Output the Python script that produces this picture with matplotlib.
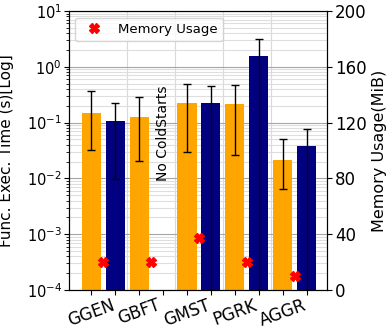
import numpy as np
import matplotlib
matplotlib.use('Agg')
import matplotlib.pyplot as plt

funcs = ['GGEN', 'GBFT', 'GMST', 'PGRK', 'AGGR']

# execution time (s): orange / navy bars, with lower and upper error ends
time_a = [0.147, 0.124, 0.221, 0.212, 0.0211]
low_a = [0.0323, 0.0207, 0.0293, 0.0266, 0.00646]
high_a = [0.373, 0.284, 0.499, 0.479, 0.0508]

time_b = [0.107, np.nan, 0.228, 1.56, 0.0386]
low_b = [0.00989, np.nan, 1e-6, 1e-6, 1e-6]
high_b = [0.228, np.nan, 0.453, 3.15, 0.0768]

# memory usage (MiB)
mem = [20, 20, 37.3, 20.3, 9.8]

x = np.arange(len(funcs))
w = 0.4

time_a = np.array(time_a)
time_b = np.array(time_b)
err_a = [time_a - np.array(low_a), np.array(high_a) - time_a]
err_b = [time_b - np.array(low_b), np.array(high_b) - time_b]

fig = plt.figure(figsize=(3.89, 3.33), dpi=100)
ax = fig.add_axes([0.177, 0.129, 0.664, 0.838])
ax.set_axisbelow(True)

ax.bar(x, time_a, w, color='orange', yerr=err_a, capsize=3,
       error_kw=dict(ecolor='black', elinewidth=1, capthick=1))
ax.bar(x + 0.5, time_b, w, color='navy', yerr=err_b, capsize=3,
       error_kw=dict(ecolor='black', elinewidth=1, capthick=1))

ax.set_yscale('log')
ax.set_ylim(1e-4, 1e1)
ax.set_xlim(-0.47, 4.93)

ticks = np.sort(np.concatenate([x, x + 0.5]))
labels = []
for f in funcs:
    labels += [f, '']
ax.set_xticks(ticks)
ax.set_xticklabels(labels, rotation=20, fontsize=12)
ax.tick_params(axis='x', pad=1)

ax.grid(axis='y', which='major', color='0.65', linewidth=0.8)
ax.grid(axis='y', which='minor', color='0.87', linewidth=0.8)
for b in x[:-1] + 0.75:
    ax.axvline(b, color='0.85', linewidth=0.8, zorder=0)

ax.tick_params(axis='y', labelsize=10.5, pad=1.5)
ax.set_ylabel('Func. Exec. Time (s)[Log]', fontsize=11)
ax.yaxis.set_label_coords(-0.212, 0.5)

ax.text(1.5, 0.065, 'No ColdStarts', rotation=90, ha='center', va='center', fontsize=10)

ax2 = ax.twinx()
ax2.plot(x + 0.25, mem, 'X', color='red', markersize=7, linestyle='none', label='Memory Usage')
ax2.set_ylim(0, 200)
ax2.set_yticks([0, 40, 80, 120, 160, 200])
ax2.tick_params(axis='y', labelsize=12, pad=2)
ax2.set_ylabel('Memory Usage(MiB)', fontsize=11.5)
ax2.yaxis.set_label_coords(1.172, 0.5)
ax2.legend(loc='upper left', fontsize=9.5)

fig.savefig('out.png', dpi=100)
